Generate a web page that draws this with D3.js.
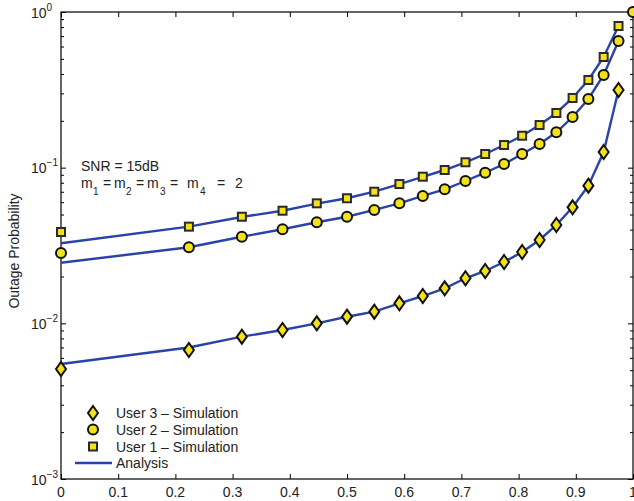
<!DOCTYPE html>
<html>
<head>
<meta charset="utf-8">
<script src="https://cdn.jsdelivr.net/npm/d3@7"></script>
<style>
  html, body { margin: 0; padding: 0; background: #fff; }
  svg { display: block; font-family: "Liberation Sans", Arial, Helvetica, sans-serif; }
</style>
</head>
<body>
<svg id="chart" width="634" height="501"></svg>
<script>
// ---------------- data ----------------
const xSim = [0, 0.2236, 0.3162, 0.3873, 0.4472, 0.5, 0.5477, 0.5916, 0.6325, 0.6708,
              0.7071, 0.7416, 0.7746, 0.8062, 0.8367, 0.866, 0.8944, 0.922, 0.9487, 0.9747];
const user1Sim = [0.0386, 0.0418, 0.0484, 0.0529, 0.0590, 0.0636, 0.0701, 0.0785, 0.0875, 0.0966,
                  0.1083, 0.1224, 0.1398, 0.1604, 0.1879, 0.2245, 0.2803, 0.3658, 0.5139, 0.8130];
const user2Sim = [0.0283, 0.0308, 0.0360, 0.0402, 0.0446, 0.0484, 0.0535, 0.0590, 0.0658, 0.0726,
                  0.0821, 0.0928, 0.1056, 0.1224, 0.1419, 0.1687, 0.2115, 0.2761, 0.3938, 0.6512];
const user3Sim = [0.00509, 0.00674, 0.00821, 0.00906, 0.01000, 0.01103, 0.01188, 0.01345, 0.01498, 0.01679,
                  0.01947, 0.02169, 0.02477, 0.02872, 0.03430, 0.04282, 0.05563, 0.07658, 0.1261, 0.3154];
// extra simulated point of user 2 at x = 1
const user2EndX = [1.0];
const user2EndY = [1.0];

const xAna = [0, 0.2236, 0.3162, 0.3873, 0.4472, 0.5, 0.5477, 0.5916, 0.6325, 0.6708,
              0.7071, 0.7416, 0.7746, 0.8062, 0.8367, 0.866, 0.8944, 0.922, 0.9487, 0.9747];
const user1Ana = [0.0327, 0.0418, 0.0482, 0.0529, 0.0588, 0.0636, 0.0701, 0.0785, 0.0873, 0.0966,
                  0.1083, 0.1224, 0.1398, 0.1604, 0.1879, 0.2245, 0.2803, 0.3658, 0.5139, 0.8130];
const user2Ana = [0.0245, 0.0308, 0.0360, 0.0402, 0.0446, 0.0484, 0.0535, 0.0590, 0.0658, 0.0726,
                  0.0821, 0.0928, 0.1056, 0.1224, 0.1419, 0.1687, 0.2115, 0.2761, 0.3938, 0.6512];
const user3Ana = [0.00548, 0.00700, 0.00821, 0.00906, 0.01000, 0.01103, 0.01188, 0.01345, 0.01498, 0.01679,
                  0.01947, 0.02169, 0.02477, 0.02872, 0.03430, 0.04282, 0.05563, 0.07658, 0.1261, 0.3154];

const xTicks = [0, 0.1, 0.2, 0.3, 0.4, 0.5, 0.6, 0.7, 0.8, 0.9, 1];
const xTickLabels = ["0", "0.1", "0.2", "0.3", "0.4", "0.5", "0.6", "0.7", "0.8", "0.9", "1"];
const yTicks = [1, 0.1, 0.01, 0.001];
const yTickExps = ["0", "\u22121", "\u22122", "\u22123"];
const legendLabels = ["User 3 \u2013 Simulation", "User 2 \u2013 Simulation", "User 1 \u2013 Simulation", "Analysis"];

// ---------------- layout ----------------
const L = 61, R = 633, T = 12, B = 479;
const LINE = "#2a43a8", FILL = "#f2e21a", EDGE = "#111";
const FS = 14;
const svg = d3.select("#chart");
const x = d3.scaleLinear().domain([0, 1]).range([L, R]);
const y = d3.scaleLog().domain([1e-3, 1]).range([B, T]);

const minorY = [];
[1e-3, 1e-2, 1e-1].forEach(d => { for (let k = 2; k <= 9; k++) minorY.push(d * k); });

// axes (ticks inside)
const axG = svg.append("g");
axG.append("g").attr("transform", `translate(0,${B})`)
  .call(d3.axisBottom(x).tickValues(xTicks).tickSize(-5).tickFormat(""));
axG.append("g").attr("transform", `translate(0,${T})`)
  .call(d3.axisTop(x).tickValues(xTicks).tickSize(-5).tickFormat(""));
axG.append("g").attr("transform", `translate(${L},0)`)
  .call(d3.axisLeft(y).tickValues(yTicks).tickSize(-5).tickFormat(""));
axG.append("g").attr("transform", `translate(${L},0)`)
  .call(d3.axisLeft(y).tickValues(minorY).tickSize(-3).tickFormat(""));
axG.append("g").attr("transform", `translate(${R},0)`)
  .call(d3.axisRight(y).tickValues(yTicks).tickSize(-5).tickFormat(""));
axG.append("g").attr("transform", `translate(${R},0)`)
  .call(d3.axisRight(y).tickValues(minorY).tickSize(-3).tickFormat(""));
axG.selectAll(".domain").remove();
axG.selectAll("line").attr("stroke", "#000").attr("stroke-width", 1);
svg.append("rect").attr("x", L).attr("y", T).attr("width", R - L).attr("height", B - T)
  .attr("fill", "none").attr("stroke", "#000").attr("stroke-width", 1.2);

// tick labels
svg.append("g").selectAll("text").data(xTicks).join("text")
  .attr("x", d => x(d)).attr("y", 497).attr("text-anchor", "middle")
  .attr("font-size", FS).attr("fill", "#222")
  .text((d, i) => xTickLabels[i]);
const yl = svg.append("g").selectAll("text").data(yTicks).join("text")
  .attr("x", 31).attr("y", d => y(d) + 5.5).attr("font-size", FS).attr("fill", "#222");
yl.append("tspan").text("10");
yl.append("tspan").attr("dy", -7).attr("font-size", 10).text((d, i) => yTickExps[i]);

svg.append("text").attr("transform", `translate(19,251) rotate(-90)`)
  .attr("text-anchor", "middle").attr("font-size", FS).attr("fill", "#222")
  .text("Outage Probability");

// analysis lines
const line = d3.line().x(d => x(d[0])).y(d => y(d[1]));
[user1Ana, user2Ana, user3Ana].forEach(arr => {
  svg.append("path").datum(xAna.map((v, i) => [v, arr[i]]))
    .attr("d", line).attr("fill", "none").attr("stroke", LINE).attr("stroke-width", 2.4);
});

// marker drawers
function square(g, cx, cy) {
  g.append("rect").attr("x", cx - 4).attr("y", cy - 4).attr("width", 8).attr("height", 8)
    .attr("fill", FILL).attr("stroke", "#2a2a2a").attr("stroke-width", 2);
}
function circle(g, cx, cy) {
  g.append("circle").attr("cx", cx).attr("cy", cy).attr("r", 5)
    .attr("fill", FILL).attr("stroke", EDGE).attr("stroke-width", 2);
}
function diamond(g, cx, cy) {
  g.append("path").attr("d", `M${cx},${cy - 7}L${cx + 5},${cy}L${cx},${cy + 7}L${cx - 5},${cy}Z`)
    .attr("fill", FILL).attr("stroke", EDGE).attr("stroke-width", 2).attr("stroke-linejoin", "miter");
}

const mg = svg.append("g");
xSim.forEach((v, i) => diamond(mg, x(v), y(user3Sim[i])));
xSim.forEach((v, i) => circle(mg, x(v), y(user2Sim[i])));
user2EndX.forEach((v, i) => circle(mg, x(v), y(user2EndY[i])));
xSim.forEach((v, i) => square(mg, x(v), y(user1Sim[i])));

// annotation
svg.append("text").attr("x", 81).attr("y", 171).attr("font-size", FS).attr("fill", "#222").text("SNR = 15dB");
const ann = [["m", 81], ["1", 93, true], ["=", 103], ["m", 114], ["2", 126, true], ["=", 136],
             ["m", 147], ["3", 160, true], ["=", 170], ["m", 187], ["4", 200, true], ["=", 217], ["2", 235]];
svg.append("g").selectAll("text").data(ann).join("text")
  .attr("x", d => d[1]).attr("y", d => d[2] ? 195 : 188)
  .attr("font-size", d => d[2] ? 10 : FS).attr("fill", "#222").text(d => d[0]);

// legend
const lg = svg.append("g");
const ly = [413, 429.5, 446.5, 463];
diamond(lg, 93, ly[0]);
circle(lg, 93, ly[1]);
square(lg, 93, ly[2]);
lg.append("line").attr("x1", 75).attr("x2", 112).attr("y1", ly[3]).attr("y2", ly[3])
  .attr("stroke", LINE).attr("stroke-width", 2.4);
lg.selectAll("text").data(legendLabels).join("text")
  .attr("x", 116).attr("y", (d, i) => ly[i] + 5).attr("font-size", FS).attr("fill", "#222")
  .text(d => d);
</script>
</body>
</html>
